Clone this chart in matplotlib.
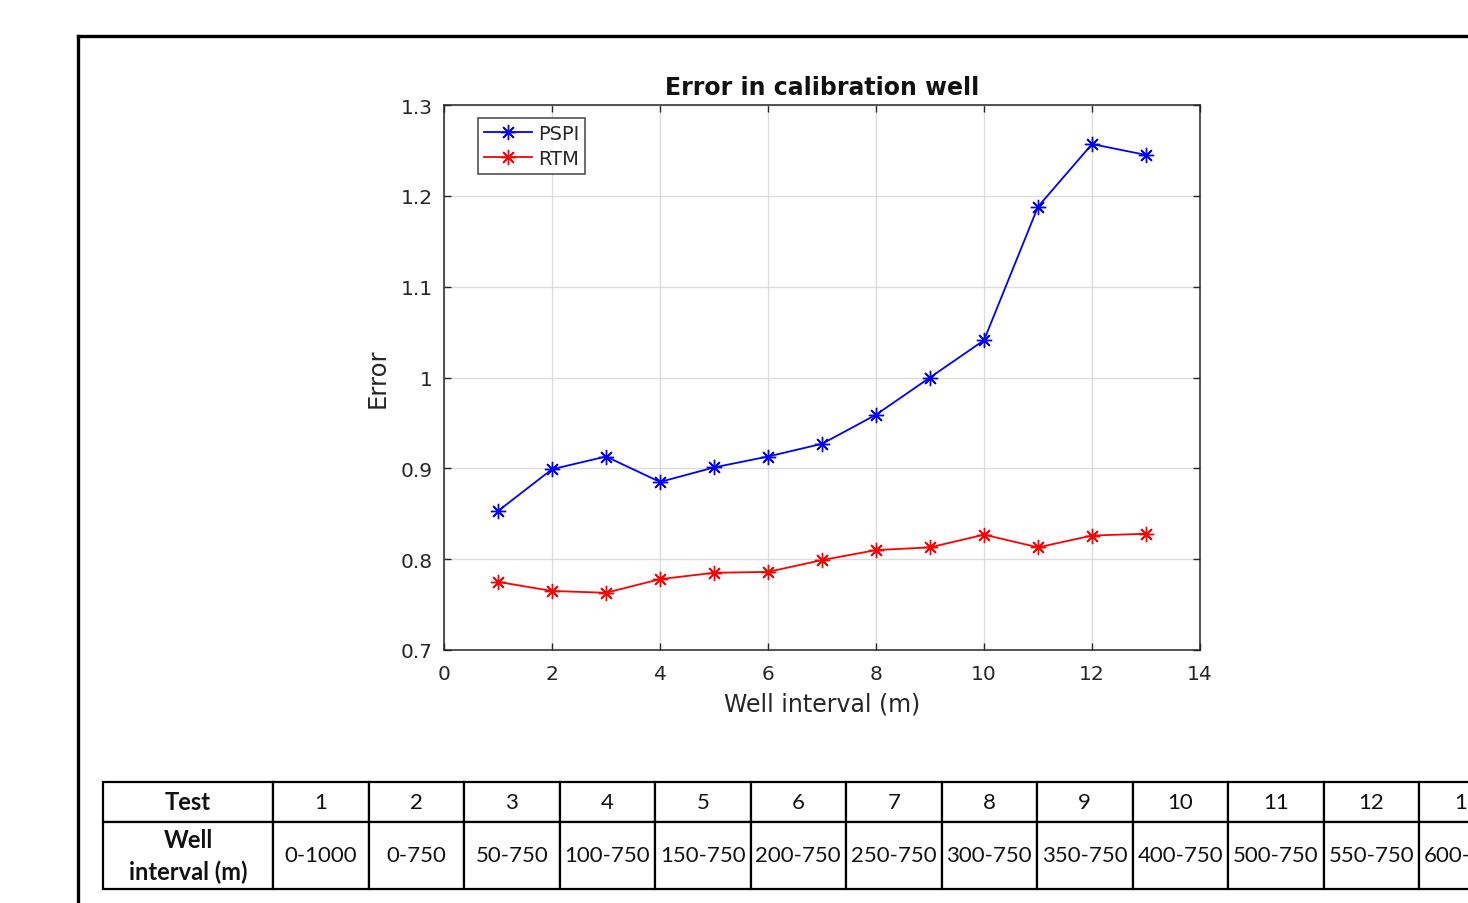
import matplotlib
matplotlib.use("Agg")
import matplotlib.pyplot as plt
from matplotlib.lines import Line2D

# Calibration-well error per test
tests = [1, 2, 3, 4, 5, 6, 7, 8, 9, 10, 11, 12, 13]
pspi = [0.853, 0.899, 0.913, 0.885, 0.901, 0.913, 0.927, 0.959, 1.000, 1.041, 1.188, 1.257, 1.245]
rtm = [0.775, 0.765, 0.763, 0.778, 0.785, 0.786, 0.799, 0.810, 0.813, 0.827, 0.813, 0.826, 0.828]

x_ticks = [0, 2, 4, 6, 8, 10, 12, 14]
y_ticks = [0.7, 0.8, 0.9, 1.0, 1.1, 1.2, 1.3]
y_tick_labels = ["0.7", "0.8", "0.9", "1", "1.1", "1.2", "1.3"]

well_intervals = ["0-1000", "0-750", "50-750", "100-750", "150-750", "200-750", "250-750",
                  "300-750", "350-750", "400-750", "500-750", "550-750", "600-750"]

W, H = 1468, 904
fig = plt.figure(figsize=(W / 100, H / 100), dpi=100)
fig.patch.set_facecolor("white")

dark = "#262626"

# main plot
ax = fig.add_axes([444 / W, 1 - 651 / H, (1200 - 444) / W, (651 - 106) / H])
star = (8, 2, 0)
ax.plot(tests, pspi, color="blue", lw=1.3, marker=star, markersize=11, mew=1.0, label="PSPI")
ax.plot(tests, rtm, color="red", lw=1.3, marker=star, markersize=11, mew=1.0, label="RTM")

ax.set_xlim(0, 14)
ax.set_ylim(0.7, 1.3)
ax.set_xticks(x_ticks)
ax.set_yticks(y_ticks)
ax.set_yticklabels(y_tick_labels)
ax.grid(True, color="#dcdcdc", lw=1.0)
ax.set_axisbelow(True)
ax.tick_params(direction="in", top=True, right=True, length=5, width=1, colors=dark,
               labelsize=14.5)
ax.tick_params(axis="x", pad=10)
ax.tick_params(axis="y", pad=8)
for s in ax.spines.values():
    s.set_color(dark)
    s.set_linewidth(1.1)

ax.set_title("Error in calibration well", fontsize=17, fontweight="bold", color="#111111", pad=8)
ax.set_xlabel("Well interval (m)", fontsize=17, color=dark, labelpad=6)
ax.set_ylabel("Error", fontsize=17.5, color=dark, labelpad=8)

leg = ax.legend(loc="upper left", bbox_to_anchor=((478 - 444) / 756, (651 - 119) / 545),
                borderaxespad=0, fancybox=False, edgecolor=dark, fontsize=14,
                handlelength=2.5, handletextpad=0.3, borderpad=0.3, labelspacing=0.3)
leg.get_frame().set_linewidth(1.2)
for t in leg.get_texts():
    t.set_color(dark)

# test table below the plot
col_w = [170] + [95.5] * len(tests)
tab_w = sum(col_w)
tax = fig.add_axes([103 / W, 1 - 890 / H, tab_w / W, (890 - 783) / H])
tax.axis("off")
cells = [["Test"] + [str(t) for t in tests],
         ["Well\ninterval (m)"] + well_intervals]
tab = tax.table(cellText=cells, colWidths=[c / tab_w for c in col_w],
                cellLoc="center", bbox=[0, 0, 1, 1])
tab.auto_set_font_size(False)
for (r, c), cell in tab.get_celld().items():
    cell.set_height(40 if r == 0 else 67)
    cell.set_linewidth(1.6)
    cell.set_edgecolor("black")
    txt = cell.get_text()
    txt.set_fontsize(16)
    txt.set_family("Lato")
    txt.set_color("#111111")
    if c == 0:
        txt.set_fontweight("bold")
        txt.set_fontsize(17)
        txt.set_linespacing(1.45)

# outer frame lines
fx = 78 / W
fy = 1 - 37 / H
fig.add_artist(Line2D([fx, fx], [0, fy], color="black", lw=2.4, transform=fig.transFigure))
fig.add_artist(Line2D([fx, 1], [fy, fy], color="black", lw=2.4, transform=fig.transFigure))

fig.savefig("out.png", dpi=100)
